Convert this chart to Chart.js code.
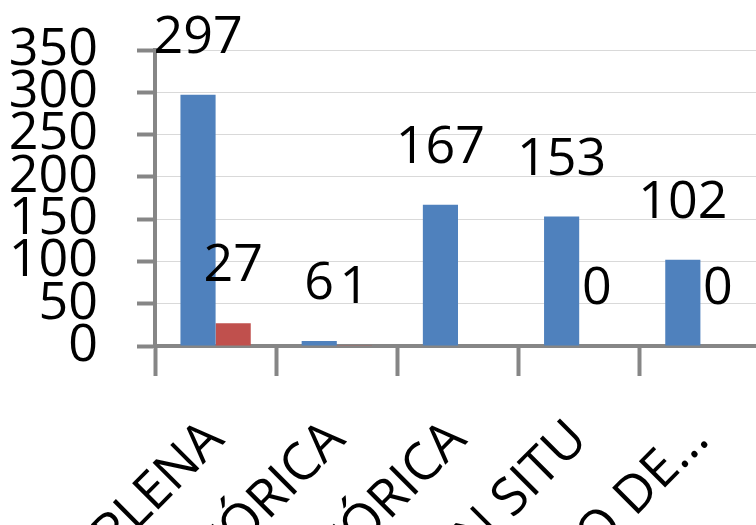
<!DOCTYPE html>
<html>
<head>
<meta charset="utf-8">
<script src="https://cdn.jsdelivr.net/npm/chart.js@4/dist/chart.umd.min.js"></script>
<style>
    html, body { margin: 0; padding: 0; background: #fff; overflow: hidden; }
    #wrap { position: relative; width: 761px; height: 525px; }
</style>
</head>
<body>
<div id="wrap"><canvas id="barChart"></canvas></div>
<script>
const categories = ['PROTEÇÃO PLENA', 'PRÉ-HISTÓRICA', 'HISTÓRICA', 'CONSERVAÇÃO IN SITU', 'DOCUMENTAÇÃO DE...'];
const blueValues = [297, 6, 167, 153, 102];
const redValues = [27, 1, null, 0, 0];
const yTicks = [0, 50, 100, 150, 200, 250, 300, 350];

const bigFont = { family: "'Open Sans', sans-serif", size: 52 };
const axisGray = '#868686';

// values written above each bar
const barLabels = {
    id: 'barLabels',
    afterDatasetsDraw(chart) {
        const ctx = chart.ctx;
        ctx.save();
        ctx.font = bigFont.size + 'px ' + bigFont.family;
        ctx.fillStyle = '#000';
        ctx.textAlign = 'center';
        ctx.textBaseline = 'alphabetic';
        chart.data.datasets.forEach((ds, i) => {
            const meta = chart.getDatasetMeta(i);
            meta.data.forEach((bar, j) => {
                const v = ds.data[j];
                if (v === null || v === undefined) return;
                ctx.fillText(String(v), bar.x, bar.y - 42);
            });
        });
        ctx.restore();
    }
};

new Chart(document.getElementById('barChart'), {
    type: 'bar',
    data: {
        labels: categories,
        datasets: [
            {
                label: 'Série 1',
                data: blueValues,
                backgroundColor: '#4F81BD',
                categoryPercentage: 0.58,
                barPercentage: 1.0
            },
            {
                label: 'Série 2',
                data: redValues,
                backgroundColor: '#C0504D',
                categoryPercentage: 0.58,
                barPercentage: 1.0
            }
        ]
    },
    options: {
        responsive: true,
        maintainAspectRatio: false,
        animation: false,
        layout: { padding: { top: 50, left: 0, right: 0, bottom: 0 } },
        plugins: {
            legend: { display: false },
            tooltip: { enabled: false }
        },
        scales: {
            x: {
                grid: {
                    offset: true,
                    drawOnChartArea: false,
                    drawTicks: true,
                    tickLength: 30,
                    tickColor: axisGray,
                    tickWidth: 4
                },
                border: { color: axisGray, width: 4 },
                ticks: {
                    color: '#000',
                    font: bigFont,
                    minRotation: 45,
                    maxRotation: 45,
                    autoSkip: false,
                    padding: 33
                },
                afterFit(scale) {
                    scale.height = 525 - 346;
                    scale.paddingLeft = 0;
                    scale.paddingRight = 0;
                    scale.paddingTop = 0;
                    scale.paddingBottom = 0;
                }
            },
            y: {
                min: 0,
                max: 350,
                afterBuildTicks(scale) {
                    scale.ticks = yTicks.map(v => ({ value: v }));
                },
                grid: {
                    color: '#d9d9d9',
                    lineWidth: 1,
                    drawTicks: true,
                    tickLength: 18,
                    tickColor: axisGray,
                    tickWidth: 4
                },
                border: { color: axisGray, width: 4 },
                ticks: {
                    color: '#000',
                    font: bigFont,
                    autoSkip: false,
                    padding: 39
                },
                afterFit(scale) {
                    scale.width = 155;
                    scale.paddingTop = 0;
                    scale.paddingBottom = 0;
                }
            }
        }
    },
    plugins: [barLabels]
});
</script>
</body>
</html>
